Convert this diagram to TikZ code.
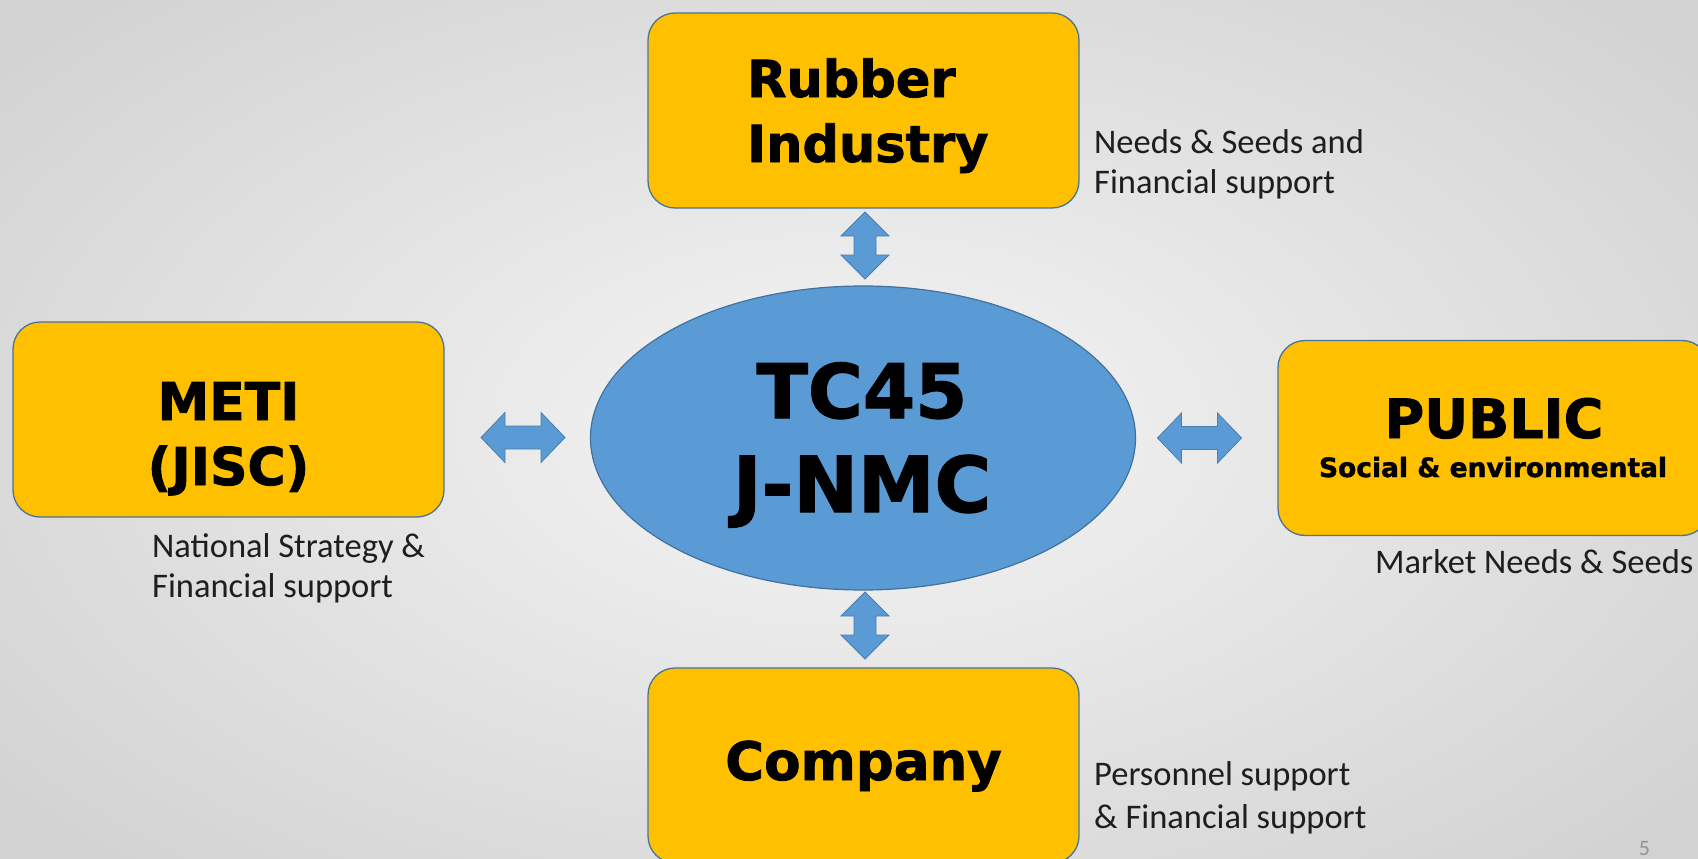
\documentclass[tikz,border=0pt]{standalone}
\usepackage{fontspec}
\setmainfont{Carlito}
\newfontfamily\boxfont{DejaVu Sans}[BoldFeatures={FakeBold=1.6}]
\usetikzlibrary{shapes.geometric}
\definecolor{gold}{HTML}{FFC000}
\definecolor{bluefill}{HTML}{5B9BD5}
\definecolor{blueline}{HTML}{41719C}
\definecolor{bgin}{HTML}{F5F5F5}
\definecolor{bgout}{HTML}{D2D2D2}
\definecolor{labtext}{HTML}{1E1E1E}
\tikzset{
  goldbox/.style={draw=blueline!85!gray, line width=1.3pt, fill=gold, rounded corners=27pt,
    minimum width=431pt, minimum height=195pt, inner sep=0pt, rectangle},
  bigtext/.style={font=\boxfont\bfseries\fontsize{#1}{#1}\selectfont, inner sep=0pt, text=black},
  labeltext/.style={font=\fontsize{34.5}{40}\selectfont, inner sep=0pt, text=labtext, anchor=base west},
  blockarrow/.style={fill=bluefill, draw=blueline!70!bluefill, line width=0.8pt, line join=miter},
  harrow/.pic={\draw[blockarrow] (-42,0) -- (-18,-25) -- (-18,-11.5) -- (18,-11.5) -- (18,-25)
     -- (42,0) -- (18,25) -- (18,11.5) -- (-18,11.5) -- (-18,25) -- cycle;},
  varrow/.pic={\draw[blockarrow] (0,-33.5) -- (-24,-9.5) -- (-11,-9.5) -- (-11,9.5) -- (-24,9.5)
     -- (0,33.5) -- (24,9.5) -- (11,9.5) -- (11,-9.5) -- (24,-9.5) -- cycle;}
}
\begin{document}
\begin{tikzpicture}[x=1pt,y=-1pt]
\useasboundingbox (0,0) rectangle (1698,859);
\clip (0,0) rectangle (1698,859);
\shade[inner color=bgin, outer color=bgout] (-250,-180) rectangle (1948,1039);

% boxes
\node[goldbox] (rub) at (863.5,110.5) {};
\node[goldbox] (meti) at (228.5,419.5) {};
\node[goldbox] (pub) at (1493.5,438) {};
\node[goldbox] (comp) at (863.5,765.5) {};
\node[ellipse, fill=bluefill, draw=blueline, line width=1.2pt, minimum width=545pt,
      minimum height=304pt, inner sep=0pt] (tc) at (863,438) {};

% box texts
\node[bigtext=51, anchor=base west] (rub1) at (747,97) {Rubber};
\node[bigtext=51, anchor=base west] (rub2) at (747,162) {Industry};
\node[bigtext=52, anchor=base] (meti1) at (228.5,420) {METI};
\node[bigtext=52, anchor=base] (meti2) at (228.5,485) {(JISC)};
\node[bigtext=75, anchor=base] (tc1) at (862,418) {TC45};
\node[bigtext=77, anchor=base] (tc2) at (862,512) {J-NMC};
\node[bigtext=54, anchor=base] (pub1) at (1494,438) {PUBLIC};
\node[bigtext=26.5, anchor=base] (pub2) at (1493,477) {Social \& environmental};
\node[bigtext=53, anchor=base] (comp1) at (863.5,780) {Company};

% side labels
\node[labeltext] (lr1) at (1094,153) {Needs \& Seeds and};
\node[labeltext] (lr2) at (1094,193) {Financial support};
\node[labeltext] (lm1) at (152,557) {National Strategy \&};
\node[labeltext] (lm2) at (152,597) {Financial support};
\node[labeltext] (lc1) at (1094,785) {Personnel support};
\node[labeltext] (lc2) at (1094,828) {\& Financial support};
\node[labeltext] (lp1) at (1375,573) {Market Needs \& Seeds};
\node[font=\fontsize{22}{22}\selectfont, text=gray!85, inner sep=0pt, anchor=base] (pg) at (1644.5,855) {5};

% block arrows
\pic (aup) at (865,245.5) {varrow};
\pic (adown) at (865,625.5) {varrow};
\pic (aleft) at (523,437.5) {harrow};
\pic (aright) at (1199.5,438) {harrow};
\end{tikzpicture}
\end{document}
